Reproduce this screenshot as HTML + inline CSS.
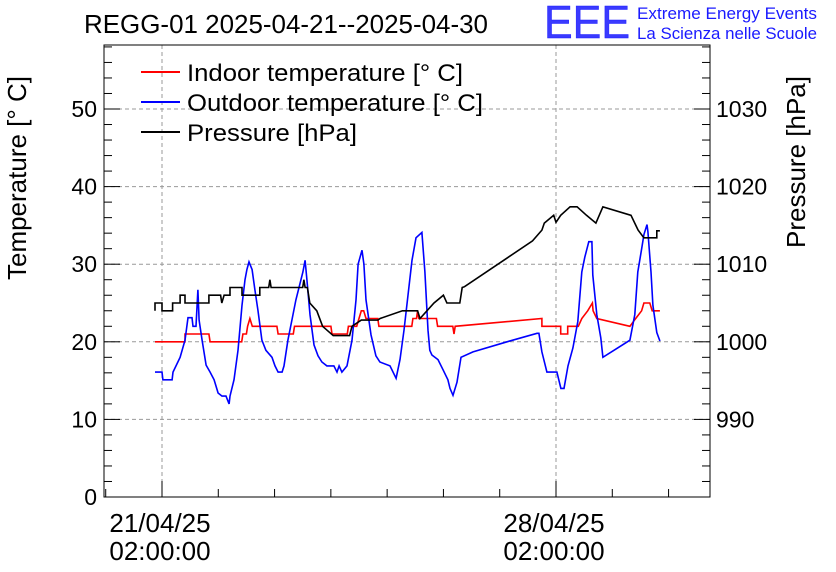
<!DOCTYPE html>
<html><head><meta charset="utf-8"><style>
html,body{margin:0;padding:0;background:#fff;}
svg{display:block;font-family:"Liberation Sans",sans-serif;}
</style></head><body>
<svg id="chart" width="836" height="572" viewBox="0 0 836 572">
<rect width="836" height="572" fill="#fff"/>
<g id="grid"></g><g id="series"></g><g id="axes"></g>
<text x="84" y="33" font-size="26" textLength="404" lengthAdjust="spacingAndGlyphs">REGG-01 2025-04-21--2025-04-30</text>
<text x="544" y="38" font-size="46" fill="#3a3aff" stroke="#1a1aff" stroke-width="0.5" textLength="86" lengthAdjust="spacingAndGlyphs">EEE</text>
<text x="637" y="19" font-size="16.5" fill="#1a1aff" textLength="180" lengthAdjust="spacingAndGlyphs">Extreme Energy Events</text>
<text x="637" y="39" font-size="16.5" fill="#1a1aff" textLength="180" lengthAdjust="spacingAndGlyphs">La Scienza nelle Scuole</text>
<text transform="translate(26,178) rotate(-90)" font-size="26" text-anchor="middle">Temperature [° C]</text>
<text transform="translate(805,162) rotate(-90)" font-size="26" text-anchor="middle">Pressure [hPa]</text>
<g>
<line x1="141" y1="72" x2="180" y2="72" stroke="#f00" stroke-width="2"/>
<text x="187" y="81" font-size="24" textLength="276" lengthAdjust="spacingAndGlyphs">Indoor temperature [° C]</text>
<line x1="141" y1="102" x2="180" y2="102" stroke="#00f" stroke-width="2"/>
<text x="187" y="111" font-size="24" textLength="296" lengthAdjust="spacingAndGlyphs">Outdoor temperature [° C]</text>
<line x1="141" y1="132" x2="180" y2="132" stroke="#000" stroke-width="2"/>
<text x="187" y="141" font-size="24" textLength="170" lengthAdjust="spacingAndGlyphs">Pressure [hPa]</text>
</g>
</svg>
<script>
// hours since 21/04/25 00:00
const outdoorHours=[-1,2,2.4,6.3,6.7,9.7,11.8,13.1,14.8,15.2,16.5,17.3,17.8,19.1,20.8,22.5,24.2,25.9,27.6,29.3,30.6,31,32.7,34.4,36.1,37.4,38.2,39.1,40.4,41.6,42.9,44.6,46.3,48.9,50.2,51.5,53.2,54,55.7,57.4,59.1,62.1,63,63.8,65.1,66.8,68.5,70.2,72.3,75.3,76.6,77.5,78.7,80.9,83,84.7,85.6,87.3,88.1,89,91.1,93.2,94.9,99.2,101.8,103.5,105.2,106.9,108.6,110.3,112.8,114.1,115.4,116.2,117.1,119.7,121.8,123.9,124.8,126.1,127.8,129.5,134.6,149.1,161.9,162.7,164,166.1,170.4,172.1,173.4,175.1,177.2,179.3,181,182.3,184,185.3,185.7,187.4,189.1,190,201.5,203.6,204.9,206.6,207.5,208.8,209.2,210.5,211.3,213,214.3];
const outdoorTemp=[16.1,16.1,15.1,15.1,16.1,18,20.2,23.1,23.1,22,22,26.7,22.8,20.2,17,16.1,15.1,13.4,13,13,12,13,15.1,18.9,24.7,28,29.3,30.3,29.3,26.7,24.1,20.2,18.9,18,16.9,16.1,16.1,16.9,20.2,22.8,25.4,29,30.5,28,23.5,19.6,18.2,17.4,16.9,16.9,16.1,16.9,16.1,16.9,20.2,25.4,30,31.8,30,25.4,20.9,18.2,17.4,16.9,15.3,17.7,21.5,26,30.5,33.4,34.1,29,21.5,18.9,18.3,17.7,16.4,15.1,14,13.1,14.8,18,18.7,20,21.1,21.1,18.7,16.1,16.1,14,14,16.9,19.2,22.6,29,30.9,32.9,32.9,28.6,23.5,20.5,18,20.2,23.5,29,32.1,33.8,35.1,34.2,29,24.7,21.2,20.1];
const indoorHours=[-1,11.8,11.8,22,22.5,36,36.5,38,38.5,39.5,40.5,51,51.5,58,58.5,74,74.5,81,81.5,85,86,87,88,89,94,94.5,108.5,109,110.5,111,111.5,119,119.5,126,126.5,127,164,164,172,172,175,175,179.5,181,183.5,185.5,185.8,187.4,201.5,204,206.5,207.5,210,211,214.3];
const indoorTemp=[20,20,21,21,20,20,21,21,22,23,22,22,21,21,22,22,21,21,22,22,23,24,24,23,23,22,22,23,23,24,23,23,22,22,21,22,23,22,22,21,21,22,22,23,24,25,24,23,22,23,24,25,25,24,24];
const pressureHours=[-1,-1,2,2,6.5,6.5,9.7,9.7,11.8,11.8,22,22,27,27.5,28.5,31,31,36.1,36.1,43.7,43.7,47.5,48,48.5,62,62.5,63,64,65,68,70.5,75,82,83,87,94,95,104.5,111,112,118,122,123.5,129,130,131,160,164,165,169,170,172,176,179,183,187,190,202,205,207.5,213,213,214.3];
const pressureHPa=[1004,1005,1005,1004,1004,1005,1005,1006,1006,1005,1005,1006,1006,1005,1006,1006,1007,1007,1006,1006,1007,1007,1008,1007,1007,1008,1007,1007,1005,1004,1002,1000.8,1000.8,1002,1002.8,1002.8,1003,1004,1004,1003,1005,1006,1005,1005,1007,1007.1,1013,1014.4,1015.3,1016.3,1015.4,1016.3,1017.4,1017.4,1016.3,1015.3,1017.4,1016.3,1014.4,1013.4,1013.4,1014.3,1014.3];
const tempTicks=[0,10,20,30,40,50];
const pressTicks=[990,1000,1010,1020,1030];
const timeTickHours=[2,170];
const timeTickLabels=[["21/04/25","02:00:00"],["28/04/25","02:00:00"]];

const L=104,R=710,T=45,B=497;
const pxPerUnit=7.76;
function xs(h){return 162+(h-2)*(394/168);}
function yT(v){return B-v*pxPerUnit;}
function yP(p){return yT(p-1000+20);}
const NS="http://www.w3.org/2000/svg";
function mk(tag,attrs,parent){const e=document.createElementNS(NS,tag);for(const k in attrs)e.setAttribute(k,attrs[k]);parent.appendChild(e);return e;}
const grid=document.getElementById('grid'),ser=document.getElementById('series'),ax=document.getElementById('axes');
tempTicks.forEach(v=>{if(v>0){const g=mk('line',{x1:L,x2:R,y1:yT(v),y2:yT(v),stroke:'#999','stroke-dasharray':'4,3'},grid);

}});
timeTickHours.forEach(h=>{const g=mk('line',{x1:xs(h),x2:xs(h),y1:T,y2:B,stroke:'#999','stroke-dasharray':'4,3'},grid);

});
function poly(hs,vs,f,color,name){const pts=hs.map((h,i)=>xs(h).toFixed(1)+','+f(vs[i]).toFixed(1)).join(' ');
const p=mk('polyline',{points:pts,fill:'none',stroke:color,'stroke-width':1.6},ser);

}
poly(indoorHours,indoorTemp,yT,'#f00','indoor-temperature-line');
poly(outdoorHours,outdoorTemp,yT,'#00f','outdoor-temperature-line');
poly(pressureHours,pressureHPa,yP,'#000','pressure-line');
const frame=mk('rect',{x:L,y:T,width:R-L,height:B-T,fill:'none',stroke:'#000','stroke-width':1},ax);


for(let v=0;v<=58;v+=2){const y=yT(v);const len=v%10===0?16:8;mk('line',{x1:L,x2:L+len,y1:y,y2:y,stroke:'#000'},ax);}
tempTicks.forEach(v=>{const t=mk('text',{x:97,y:yT(v)+8,'font-size':23,'text-anchor':'end'},ax);t.textContent=v;

});
for(let p=980;p<=1038;p+=2){const y=yP(p);const len=p%10===0?16:8;mk('line',{x1:R-len,x2:R,y1:y,y2:y,stroke:'#000'},ax);}
pressTicks.forEach(p=>{const t=mk('text',{x:716,y:yP(p)+8,'font-size':23},ax);t.textContent=p;

});
for(let h=-22;h<=260;h+=24){const x=xs(h);if(x<L||x>R)continue;const major=timeTickHours.includes(h);mk('line',{x1:x,x2:x,y1:B,y2:B-(major?16:8),stroke:'#000'},ax);}
timeTickHours.forEach((h,i)=>{timeTickLabels[i].forEach((s,j)=>{const t=mk('text',{x:xs(h)-2,y:532+j*28,'font-size':26,'text-anchor':'middle'},ax);t.textContent=s;

});});
</script>
</body></html>
